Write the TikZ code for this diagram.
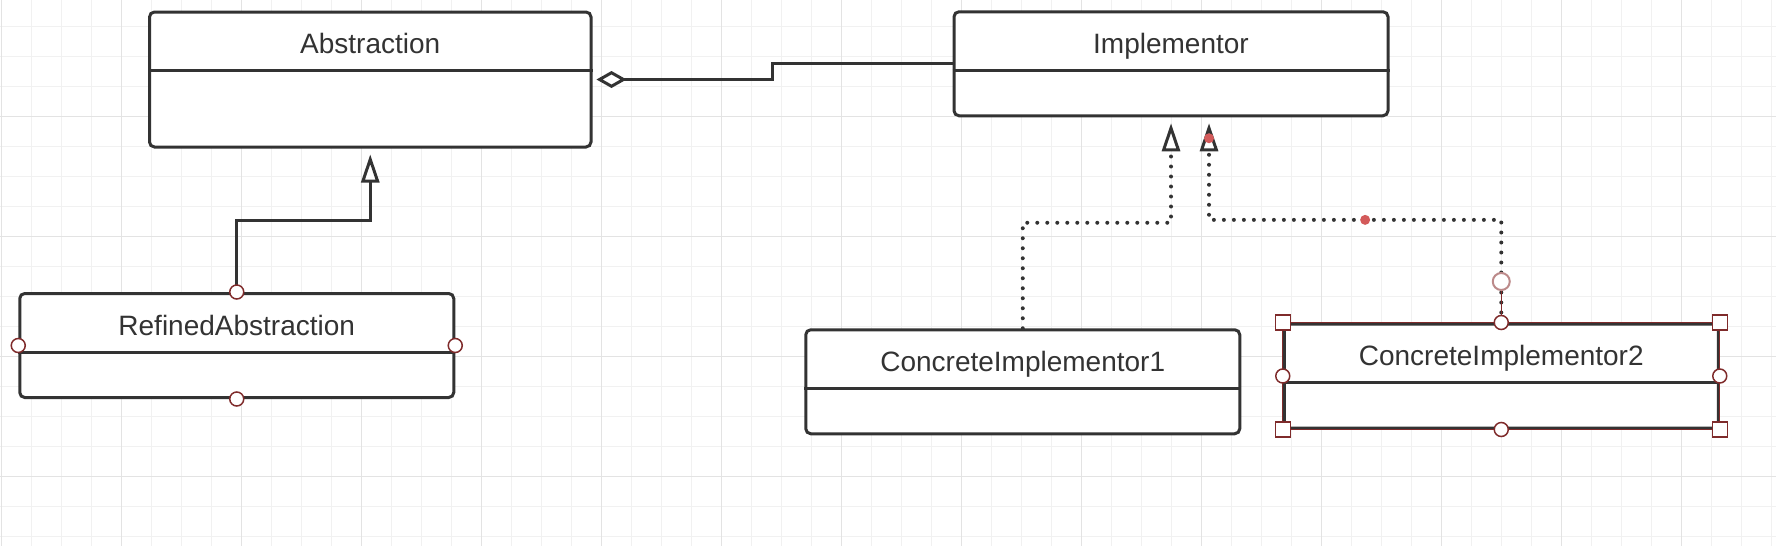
\documentclass[tikz,border=0pt]{standalone}
\usepackage{fontspec}
\setmainfont{Liberation Sans}
\usepackage{tikz}
\usetikzlibrary{arrows.meta,positioning,calc,backgrounds}
\definecolor{cA}{HTML}{333333}
\definecolor{cG}{HTML}{F1F1F1}
\definecolor{cM}{HTML}{E3E3E3}
\definecolor{cH}{HTML}{7F2B2B}
\definecolor{cD}{HTML}{D35A5A}
\definecolor{cR}{HTML}{BC8A8A}

\begin{document}
\begin{tikzpicture}[x=0.5pt,y=-0.5pt,
  cls/.style={draw=cA,line width=1.5pt,rounded corners=2.5pt,fill=white,
    minimum width=217pt,minimum height=52pt,inner sep=0pt},
  ttl/.style={anchor=base,text=cA,font=\fontsize{14}{16}\selectfont,inner sep=0pt},
  inh/.style={draw=cA,line width=1.5pt,-{Triangle[fill=white,length=14pt,width=9pt,line width=1.5pt]},shorten >=3pt},
  real/.style={inh,line width=2pt,line cap=round,dash pattern=on 0pt off 5pt},
  agg/.style={draw=cA,line width=1.5pt,{Diamond[fill=white,length=15pt,width=8.5pt]}-,shorten <=2pt},
  hdl/.style={circle,draw=cH,fill=white,line width=0.75pt,minimum size=7pt,inner sep=0pt},
  sqh/.style={rectangle,draw=cH,fill=white,line width=0.75pt,minimum size=7.5pt,inner sep=0pt}]
  \useasboundingbox (0,0) rectangle (1776,546);
  \fill[white] (0,0) rectangle (1776,546);
  % grid
  \foreach \x in {1.7,31.7,...,1776}{\draw[cG,line width=0.6pt] (\x,0) -- (\x,546);}
  \foreach \y in {26.7,56.7,...,546}{\draw[cG,line width=0.6pt] (0,\y) -- (1776,\y);}
  \foreach \x in {1.7,121.7,...,1776}{\draw[cM,line width=0.6pt] (\x,0) -- (\x,546);}
  \foreach \y in {116.7,236.7,...,546}{\draw[cM,line width=0.6pt] (0,\y) -- (1776,\y);}

  % classes
  \node[cls,minimum width=220.75pt,minimum height=67.5pt] (abs) at (370.25,79.5) {};
  \node[cls] (impl) at (1171,63.75) {};
  \node[cls] (ra) at (236.75,345.5) {};
  \node[cls] (ci1) at (1022.75,381.75) {};
  \node[cls] (ci2) at (1501.25,376) {};
  \foreach \n/\t in {abs/Abstraction,impl/Implementor,ra/RefinedAbstraction,
      ci1/ConcreteImplementor1,ci2/ConcreteImplementor2}{
    \draw[cA,line width=1.5pt] ([yshift=-30pt]\n.north west) -- ([yshift=-30pt]\n.north east);
    \node[ttl] (\n-t) at ([yshift=-21.5pt]\n.north) {\t};
  }

  % relations
  \draw[agg] (abs.east) -| ($(abs.east)!0.5!(impl.west)$) |- (impl.west);
  \draw[inh] (ra.north) |- ($(ra.north)!0.5!(abs.south)$) -| (abs.south);
  \draw[real] (ci1.north) |- ($(ci1.north)!0.5!(impl.south)$) -| (impl.south);
  \coordinate (impl-r) at ([xshift=19pt]impl.south);
  \draw[real] (ci2.north) |- ($(ci2.north)!0.5!(impl-r)$) coordinate (ci2-m) -| (impl-r);

  % selection handles
  \foreach \a/\k in {north/n,south/s,east/e,west/w}{\node[hdl] (ra-\k) at (ra.\a){};}
  \draw[cH,line width=0.6pt] (ci2.north west) rectangle (ci2.south east);
  \coordinate (ring) at ([yshift=20.5pt]ci2.north);
  \draw[cH,line width=0.6pt] (ring) -- (ci2.north);
  \node[circle,draw=cR,fill=white,line width=1pt,minimum size=8.5pt,inner sep=0pt] (ring-h) at (ring){};
  \foreach \a/\k in {north west/nw,north east/ne,south west/sw,south east/se}{\node[sqh] (ci2-\k) at (ci2.\a){};}
  \foreach \a/\k in {north/n,south/s,east/e,west/w}{\node[hdl] (ci2-\k) at (ci2.\a){};}
  \fill[cD] ([yshift=-10.5pt]impl-r) circle (2.5pt);
  \fill[cD] ([xshift=5pt]ci2-m) circle (2.5pt);
\end{tikzpicture}
\end{document}
